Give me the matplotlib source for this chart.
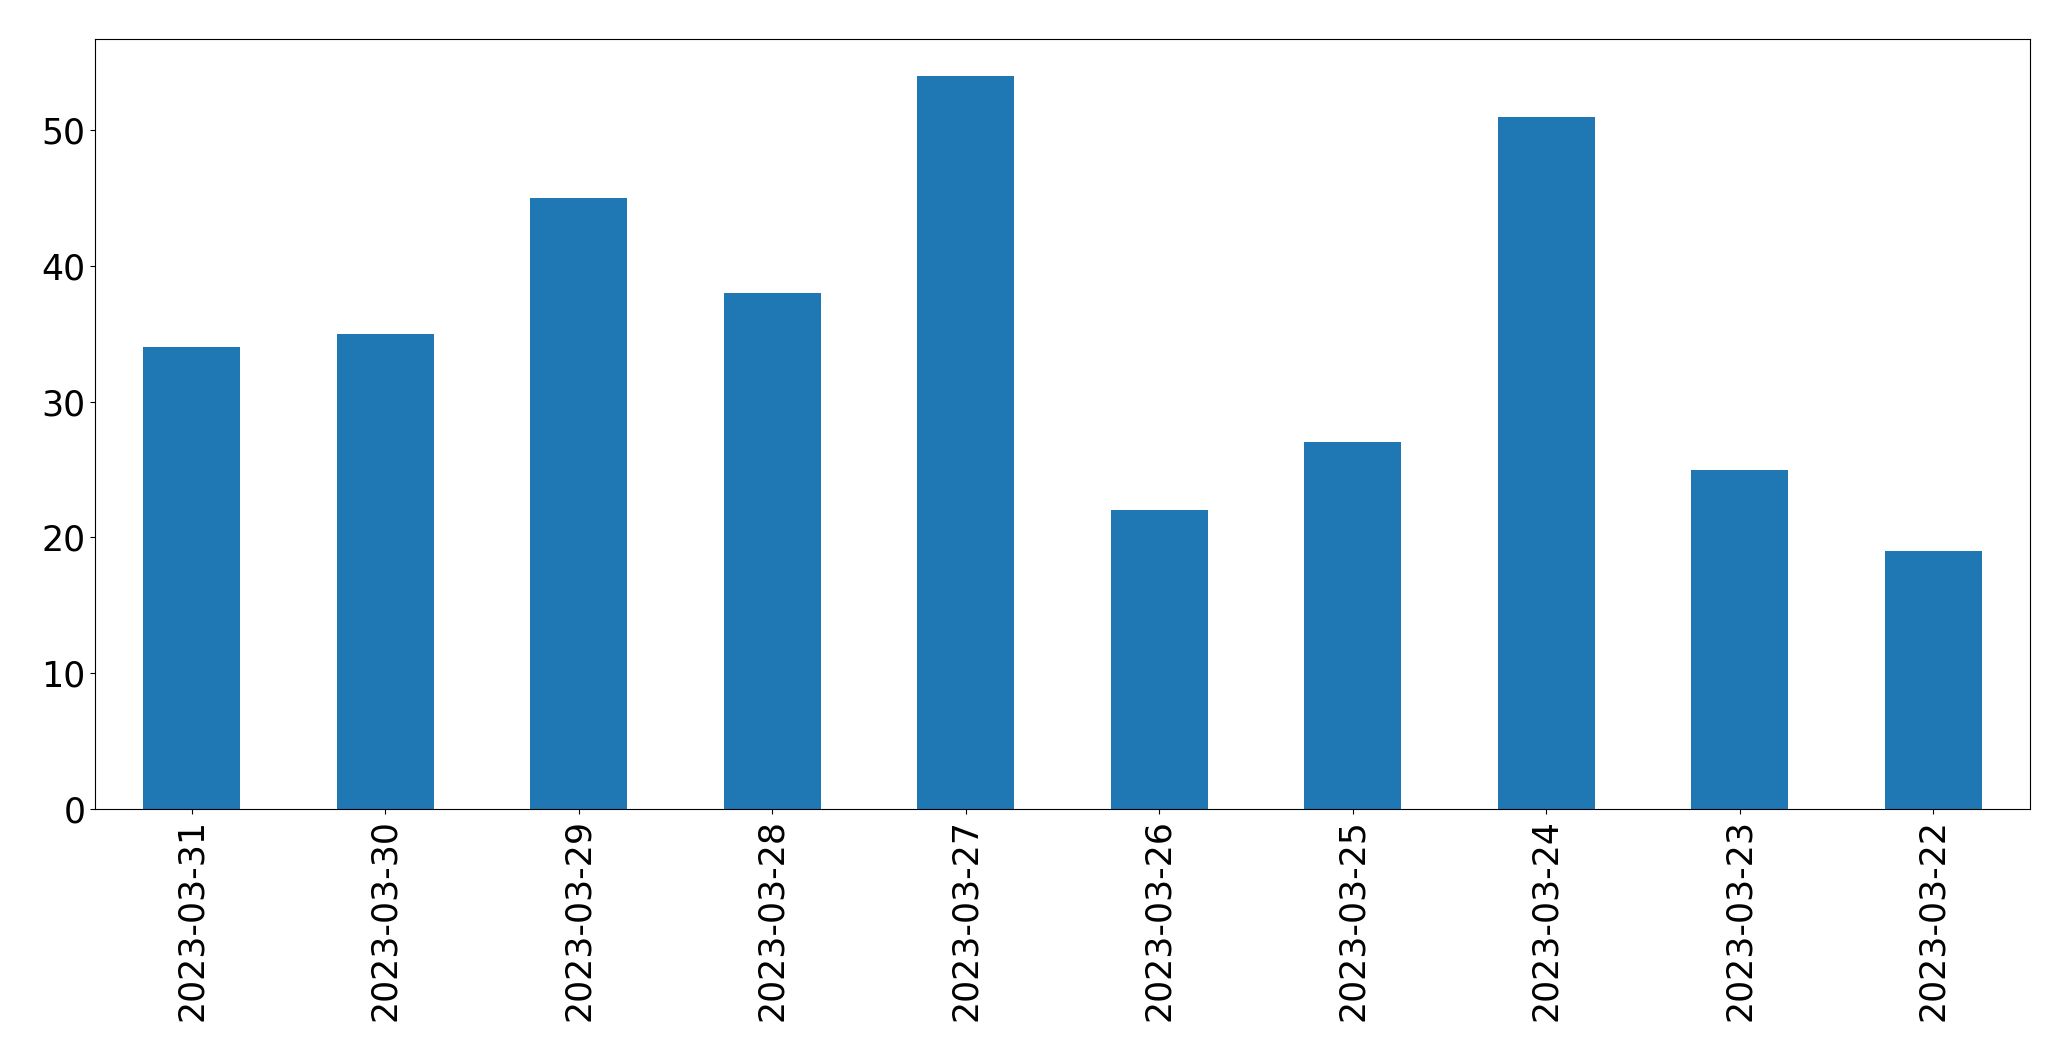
import matplotlib
matplotlib.use("Agg")
import matplotlib.pyplot as plt
import pandas as pd

dates = ["2023-03-31", "2023-03-30", "2023-03-29", "2023-03-28", "2023-03-27",
         "2023-03-26", "2023-03-25", "2023-03-24", "2023-03-23", "2023-03-22"]
counts = [34, 35, 45, 38, 54, 22, 27, 51, 25, 19]

series = pd.Series(counts, index=dates)

fig, ax = plt.subplots(figsize=(20.71, 10.61), dpi=100)
series.plot(kind="bar", ax=ax, color="#1f77b4")
ax.tick_params(axis="both", labelsize=25)
fig.subplots_adjust(left=0.0459, right=0.9802, top=0.963, bottom=0.2375)
fig.savefig("out.png", dpi=100)
